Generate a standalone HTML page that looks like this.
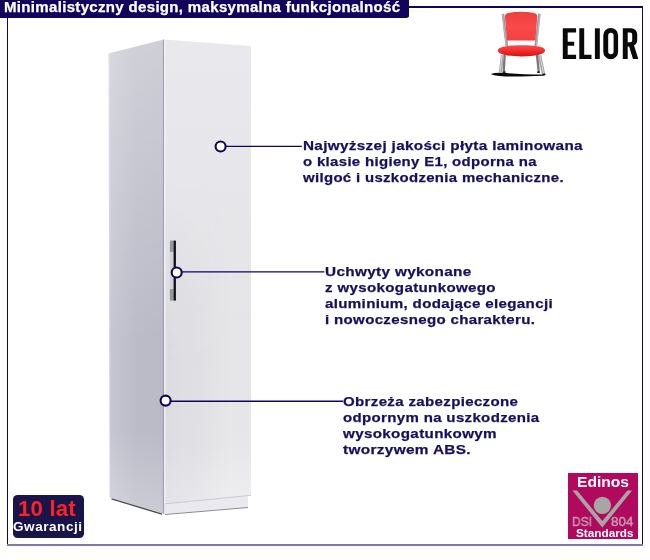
<!DOCTYPE html>
<html><head><meta charset="utf-8">
<style>
html,body{margin:0;padding:0;background:#fff;}
body{width:650px;height:560px;position:relative;overflow:hidden;font-family:"Liberation Sans",sans-serif;}
.abs{position:absolute;}
.t,#title,#g10a,#g10b,#ed1,#ed2,#ed3,#ed4{will-change:transform;}

#banner{left:0;top:0;width:409px;height:18px;background:#12045a;border-bottom-right-radius:4px 2px;}
#title{-webkit-text-stroke:0.25px #fff;left:4.2px;top:-0.8px;color:#fff;font-weight:bold;font-size:14px;line-height:16px;white-space:nowrap;letter-spacing:0.3px;transform-origin:0 50%;transform:scaleX(1.073);}
.t{color:#170f5e;-webkit-text-stroke:0.25px #170f5e;font-weight:bold;font-size:13.5px;line-height:16px;white-space:nowrap;}
.t span{display:block;width:max-content;transform-origin:0 50%;letter-spacing:0.3px;}
#svg{left:0;top:0;}
#g10{left:12.7px;top:495.1px;width:71.8px;height:43.4px;background:#17154a;border-radius:4.5px;}
#g10a{left:17.5px;top:497.4px;color:#ff2222;font-weight:bold;font-size:22.2px;line-height:24px;letter-spacing:0.2px;white-space:nowrap;}
#g10b{left:13.4px;top:518.5px;color:#fff;font-weight:bold;font-size:12.8px;line-height:16px;letter-spacing:0.5px;white-space:nowrap;transform-origin:0 50%;transform:scaleX(1.06);}
#ed{left:568.1px;top:472.9px;width:69.6px;height:66.6px;background:#b0095e;}
#ed1{left:576.8px;top:473.3px;color:#fff;font-weight:bold;font-size:14.4px;line-height:18px;white-space:nowrap;transform-origin:0 50%;transform:scaleX(1.085);}
#ed2{left:575.6px;top:526.1px;color:#fff;font-weight:bold;font-size:10.7px;line-height:14px;white-space:nowrap;transform-origin:0 50%;transform:scaleX(1.1);}
#ed3{left:572.3px;top:515.2px;color:#c29cb2;-webkit-text-stroke:0.45px #c29cb2;font-size:13px;line-height:14px;white-space:nowrap;transform-origin:0 50%;transform:scaleX(0.92);}
#ed4{left:611.1px;top:515.2px;color:#c29cb2;-webkit-text-stroke:0.45px #c29cb2;font-size:13px;line-height:14px;white-space:nowrap;transform-origin:0 50%;transform:scaleX(1.03);}
</style></head><body>
<div class="abs" style="left:7px;top:6.3px;width:636px;height:1.5px;background:#12045a"></div>
<div class="abs" style="left:7px;top:6.3px;width:1.2px;height:539.5px;background:#12045a"></div>
<div class="abs" style="left:641.8px;top:6.3px;width:1.2px;height:539.5px;background:#12045a"></div>
<div class="abs" style="left:7px;top:544px;width:636px;height:2px;background:#7e79aa"></div>
<div id="banner" class="abs"></div>
<div id="title" class="abs">Minimalistyczny design, maksymalna funkcjonalność</div>

<svg id="svg" class="abs" width="650" height="560" viewBox="0 0 650 560">
<defs>
<linearGradient id="side" gradientUnits="userSpaceOnUse" x1="108.5" x2="164" y1="0" y2="0"><stop offset="0" stop-color="#d6d7df"/><stop offset="0.05" stop-color="#c5c6d1"/><stop offset="0.5" stop-color="#bcbcc9"/><stop offset="0.96" stop-color="#babac7"/><stop offset="0.99" stop-color="#a9a9b7"/><stop offset="1" stop-color="#b4b4c0"/></linearGradient>
<linearGradient id="door" gradientUnits="userSpaceOnUse" x1="0" x2="0" y1="40" y2="500"><stop offset="0" stop-color="#e9e9ed"/><stop offset="0.6" stop-color="#e5e5e8"/><stop offset="0.88" stop-color="#e7e7ea"/><stop offset="1" stop-color="#eeeef1"/></linearGradient>
<linearGradient id="seat" x1="0" x2="0" y1="0" y2="1"><stop offset="0" stop-color="#ff4a4a"/><stop offset="0.55" stop-color="#f02a2a"/><stop offset="1" stop-color="#cc1414"/></linearGradient>
<linearGradient id="back" x1="0" x2="0" y1="0" y2="1"><stop offset="0" stop-color="#ee3e3e"/><stop offset="0.5" stop-color="#fb4a4a"/><stop offset="1" stop-color="#f44040"/></linearGradient>
<linearGradient id="sidev" gradientUnits="userSpaceOnUse" x1="0" x2="0" y1="40" y2="340"><stop offset="0" stop-color="#fff" stop-opacity="0.30"/><stop offset="1" stop-color="#fff" stop-opacity="0"/></linearGradient>
<linearGradient id="doorh" gradientUnits="userSpaceOnUse" x1="165" x2="251" y1="0" y2="0"><stop offset="0" stop-color="#50506a" stop-opacity="0.07"/><stop offset="0.75" stop-color="#50506a" stop-opacity="0"/></linearGradient>
<linearGradient id="mv" gradientUnits="userSpaceOnUse" x1="0" x2="0" y1="180" y2="360"><stop offset="0" stop-color="#000"/><stop offset="1" stop-color="#fff"/></linearGradient>
<mask id="mk" maskUnits="userSpaceOnUse" x="160" y="30" width="100" height="480"><rect x="160" y="30" width="100" height="480" fill="url(#mv)"/></mask>
<linearGradient id="sideb" gradientUnits="userSpaceOnUse" x1="0" x2="0" y1="430" y2="514"><stop offset="0" stop-color="#fff" stop-opacity="0"/><stop offset="1" stop-color="#fff" stop-opacity="0.25"/></linearGradient>
</defs>
<!-- wardrobe -->
<polygon points="108.5,53.5 164,39.5 164,514 109.5,497.5" fill="url(#side)"/>
<polygon points="108.5,53.5 164,39.5 164,514 109.5,497.5" fill="url(#sidev)"/>
<polygon points="108.5,53.5 164,39.5 164,514 109.5,497.5" fill="url(#sideb)"/>
<line x1="111.5" y1="498.9" x2="162" y2="514.1" stroke="#4c4c52" stroke-width="1.4"/>
<polygon points="164,503 248,495 248,507 164,514" fill="#e9e9ef"/>
<line x1="165" y1="514.5" x2="248" y2="507.5" stroke="#8a8a90" stroke-width="1"/>
<polygon points="164.5,39.5 251,46 251,495 164.5,503.5" fill="url(#door)"/>
<polygon points="164.5,39.5 251,46 251,495 164.5,503.5" fill="url(#doorh)" mask="url(#mk)"/>
<line x1="163.6" y1="39.6" x2="163.6" y2="513.8" stroke="#a0a0b0" stroke-width="1"/>
<line x1="164.9" y1="39.5" x2="164.9" y2="503.5" stroke="#f0f0f4" stroke-width="1.3"/>
<line x1="165" y1="503.8" x2="251" y2="495.3" stroke="#c9c9d2" stroke-width="1"/>
<!-- handle -->
<rect x="169.9" y="240.6" width="3.8" height="60" fill="#d2d2d8"/>
<rect x="169.9" y="240.6" width="3.8" height="11.3" fill="#96969c"/>
<rect x="169.9" y="289" width="3.8" height="11.6" fill="#96969c"/>
<rect x="173.6" y="240.6" width="2.3" height="60" fill="#0e0e18"/>
<!-- callouts -->
<g stroke="#12045a" fill="none">
<line x1="226" y1="146.4" x2="301.8" y2="146.4" stroke-width="1.35"/>
<line x1="182" y1="271.8" x2="324.3" y2="271.8" stroke-width="1.35"/>
<line x1="171" y1="401.2" x2="343" y2="401.2" stroke-width="1.35"/>
<circle cx="220.6" cy="146.5" r="5" fill="#fff" stroke-width="2.1"/>
<circle cx="176.7" cy="272.5" r="5" fill="#fff" stroke-width="2.1"/>
<circle cx="165.6" cy="400.6" r="5" fill="#fff" stroke-width="2.1"/>
</g>
<!-- chair -->
<g>
<path d="M490.8,74 Q495,72.4 503,72.8 Q520,74.6 544,74.6 Q546,75.2 543,75.8 Q520,77 505,76.4 Q493,75.8 490.8,74 Z" fill="#0a0a0a"/>
<path d="M503,13.8 C504.2,25 505.6,36 506.8,46" stroke="#98989c" stroke-width="2.6" fill="none"/>
<path d="M502.5,13.8 C503.7,25 505.1,36 506.3,46" stroke="#c4c4c8" stroke-width="0.8" fill="none"/>
<path d="M539.4,13.8 C538.2,25 537,36 535.8,46" stroke="#98989c" stroke-width="2.6" fill="none"/>
<path d="M539.9,13.8 C538.7,25 537.5,36 536.3,46" stroke="#c4c4c8" stroke-width="0.8" fill="none"/>
<path d="M504.9,16.5 Q504.9,13.6 508.3,13 Q521,10.4 533.9,13 Q537.3,13.6 537.3,16.5 L535.4,40.6 L507,40.6 Z" fill="url(#back)"/>
<polygon points="503.4,55 505.8,55 504.9,71.6 502.6,71.6" fill="#77777b"/>
<polygon points="500.9,55 503.9,55 501.9,72.8 498.8,72.8" fill="#a4a4a8"/>
<polygon points="501.6,55 502.6,55 500.5,72.8 499.6,72.8" fill="#dcdce0"/>
<ellipse cx="504.2" cy="72.1" rx="1.7" ry="0.9" fill="#111"/>
<polygon points="535.8,55 538.2,55 539.9,71.6 537.6,71.6" fill="#77777b"/>
<polygon points="537.6,55 541.2,55 545.2,74.2 541.9,74.2" fill="#a4a4a8"/>
<polygon points="539.2,55 540.2,55 544.2,74.2 543.3,74.2" fill="#dcdce0"/>
<ellipse cx="538.5" cy="72.1" rx="1.7" ry="0.9" fill="#111"/>
<ellipse cx="544" cy="74.4" rx="1.6" ry="0.9" fill="#111"/>
<path d="M497.8,50.6 C497.8,46.6 508,45.3 521.4,45.3 C535,45.3 545.1,46.6 545.1,50.6 C545.1,54.6 535,56.4 521.4,56.4 C508,56.4 497.8,54.6 497.8,50.6 Z" fill="url(#seat)"/>
</g>
<!-- ELIOR -->
<g fill="#0a0a0a">
<path d="M562.8,28.3 h13.3 v4.1 h-8.4 v9.3 h6.5 v4.1 h-6.5 v9 h8.4 v4.2 h-13.3 z"/>
<path d="M579.3,28.3 h4.9 v26.5 h7.3 v4.2 h-12.2 z"/>
<rect x="594.9" y="28.3" width="4.9" height="30.7"/>
<path fill-rule="evenodd" d="M603.3,35.3 a7.4,7.4 0 0 1 14.8,0 v16.5 a7.4,7.4 0 0 1 -14.8,0 z M608.2,35.5 v16.1 a2.7,2.7 0 0 0 5.4,0 v-16.1 a2.7,2.7 0 0 0 -5.4,0 z"/>
<path fill-rule="evenodd" d="M622.8,28.3 h8.3 a6.1,6.1 0 0 1 6.1,6.1 v5.5 a6.1,6.1 0 0 1 -3.2,5.4 l4.3,13.7 h-5.3 l-3.9,-12.6 h-1.4 v12.6 h-4.9 z M627.7,32.5 v9.8 h2.5 a2,2 0 0 0 2,-2 v-5.8 a2,2 0 0 0 -2,-2 z"/>
</g>
<!-- Edinos graphics placed later via separate svg -->
</svg>

<div class="t abs" id="t1" style="left:303.2px;top:137.7px;"><span style="transform:scaleX(1.1304)">Najwyższej jakości płyta laminowana</span><span style="transform:scaleX(1.1077)">o klasie higieny E1, odporna na</span><span style="transform:scaleX(1.1069)">wilgoć i uszkodzenia mechaniczne.</span></div>
<div class="t abs" id="t2" style="left:324.7px;top:263.8px;"><span style="transform:scaleX(1.1336)">Uchwyty wykonane</span><span style="transform:scaleX(1.1192)">z wysokogatunkowego</span><span style="transform:scaleX(1.1188)">aluminium, dodające elegancji</span><span style="transform:scaleX(1.1150)">i nowoczesnego charakteru.</span></div>
<div class="t abs" id="t3" style="left:343.4px;top:393.8px;"><span style="transform:scaleX(1.1155)">Obrzeża zabezpieczone</span><span style="transform:scaleX(1.1133)">odpornym na uszkodzenia</span><span style="transform:scaleX(1.1251)">wysokogatunkowym</span><span style="transform:scaleX(1.1379)">tworzywem ABS.</span></div>

<div id="g10" class="abs"></div>
<div id="g10a" class="abs">10 lat</div>
<div id="g10b" class="abs">Gwarancji</div>

<div id="ed" class="abs"></div>
<svg class="abs" style="left:0;top:0" width="650" height="560" viewBox="0 0 650 560">
<polygon points="572.4,490.4 577.1,490.4 602.3,521.1 627.4,490.4 632.1,490.4 602.3,527.5" fill="#a8a6a4"/>
<circle cx="602.4" cy="505.3" r="8.6" fill="#a8a6a4"/>
</svg>
<div id="ed1" class="abs">Edinos</div>
<div id="ed3" class="abs">DSI</div>
<div id="ed4" class="abs">804</div>
<div id="ed2" class="abs">Standards</div>
</body></html>
